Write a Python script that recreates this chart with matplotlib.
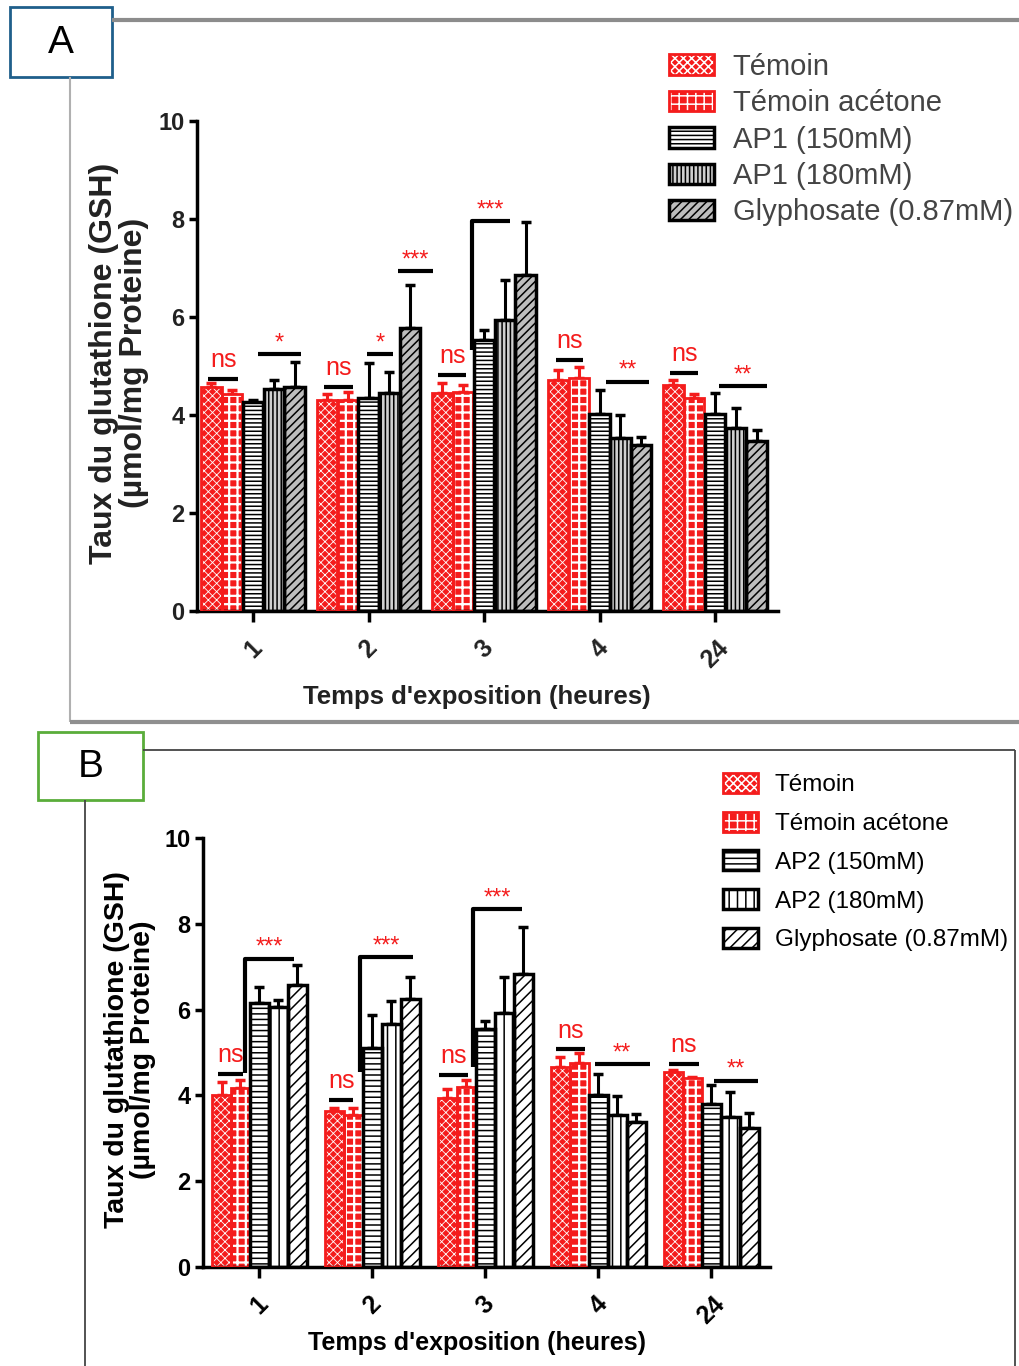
import matplotlib
matplotlib.use('Agg')
import matplotlib.pyplot as plt
from matplotlib.lines import Line2D
from matplotlib.patches import Rectangle
import numpy as np

plt.rcParams['font.family'] = ['Liberation Sans', 'DejaVu Sans']
plt.rcParams['hatch.linewidth'] = 1.1

# ---------------- data ----------------
groups = ['1', '2', '3', '4', '24']
series_A = ['Témoin', 'Témoin acétone', 'AP1 (150mM)', 'AP1 (180mM)', 'Glyphosate (0.87mM)']
series_B = ['Témoin', 'Témoin acétone', 'AP2 (150mM)', 'AP2 (180mM)', 'Glyphosate (0.87mM)']

# Panel A (means / SEM) per exposure time
temoin_A = [4.57, 4.31, 4.45, 4.71, 4.62]
temoin_A_err = [0.08, 0.12, 0.20, 0.21, 0.10]
acetone_A = [4.42, 4.31, 4.47, 4.75, 4.35]
acetone_A_err = [0.10, 0.15, 0.15, 0.22, 0.08]
ap150_A = [4.27, 4.35, 5.53, 4.03, 4.03]
ap150_A_err = [0.03, 0.71, 0.20, 0.48, 0.41]
ap180_A = [4.54, 4.45, 5.94, 3.53, 3.73]
ap180_A_err = [0.17, 0.42, 0.81, 0.47, 0.41]
glyph_A = [4.58, 5.77, 6.86, 3.39, 3.46]
glyph_A_err = [0.50, 0.88, 1.07, 0.17, 0.23]

# Panel B
temoin_B = [4.01, 3.63, 3.93, 4.67, 4.55]
temoin_B_err = [0.31, 0.07, 0.21, 0.23, 0.04]
acetone_B = [4.17, 3.54, 4.20, 4.76, 4.40]
acetone_B_err = [0.19, 0.16, 0.16, 0.23, 0.04]
ap150_B = [6.15, 5.10, 5.54, 4.01, 3.80]
ap150_B_err = [0.38, 0.77, 0.20, 0.50, 0.44]
ap180_B = [6.07, 5.66, 5.93, 3.54, 3.50]
ap180_B_err = [0.15, 0.55, 0.82, 0.45, 0.59]
glyph_B = [6.57, 6.24, 6.83, 3.39, 3.23]
glyph_B_err = [0.47, 0.53, 1.10, 0.18, 0.37]

# significance marks: (group, label, y level, first bar, last bar, bracket bottom or None)
sig_A = [
    (0, 'ns', 4.73, -0.15, 1.3, None), (0, '*', 5.24, 2.25, 4.3, None),
    (1, 'ns', 4.57, -0.15, 1.25, None), (1, '*', 5.24, 1.95, 3.2, None), (1, '***', 6.93, 3.4, 5.1, None),
    (2, 'ns', 4.82, -0.2, 1.15, None), (2, '***', 7.95, 1.4, 3.25, 5.33),
    (3, 'ns', 5.12, -0.1, 1.2, None), (3, '**', 4.68, 2.3, 4.4, None),
    (4, 'ns', 4.86, -0.15, 1.2, None), (4, '**', 4.59, 2.2, 4.5, None),
]
sig_B = [
    (0, 'ns', 4.50, -0.2, 1.15, None), (0, '***', 7.19, 1.25, 3.8, 4.52),
    (1, 'ns', 3.89, -0.3, 1.0, None), (1, '***', 7.22, 1.35, 4.15, 4.55),
    (2, 'ns', 4.48, -0.45, 1.1, None), (2, '***', 8.34, 1.35, 3.95, 4.67),
    (3, 'ns', 5.07, -0.25, 1.3, None), (3, '**', 4.73, 1.8, 4.7, None),
    (4, 'ns', 4.73, -0.25, 1.35, None), (4, '**', 4.34, 2.15, 4.45, None),
]

RED = '#f41c1c'

W, H = 1020, 1366
fig = plt.figure(figsize=(W / 100, H / 100), dpi=100)


def fx(x):
    return x / W


def fy(y):
    return 1 - y / H


def line(xs, ys, color, lw):
    fig.add_artist(Line2D([fx(v) for v in xs], [fy(v) for v in ys], color=color, lw=lw,
                          transform=fig.transFigure, solid_capstyle='butt'))


def draw_panel(ax, series, vals, errs, styles, sigs, bw, labcolor):
    x = np.arange(len(groups))
    handles = []
    for i, (v, e, st) in enumerate(zip(vals, errs, styles)):
        pos = x + (i - 2) * bw
        face, hcol, hatch, ecol, elw, hlw = st
        b1 = ax.bar(pos, v, bw * 0.98, color=face, edgecolor=hcol, hatch=hatch, linewidth=0, zorder=2)
        for p in b1:
            try:
                p.set_hatch_linewidth(hlw)
            except AttributeError:
                pass
        b2 = ax.bar(pos, v, bw * 0.98, fill=False, edgecolor=ecol, linewidth=elw, zorder=3)
        ax.errorbar(pos, v, yerr=[np.zeros(len(v)), e], fmt='none', ecolor=ecol,
                    elinewidth=2.2, capsize=3.5, capthick=2.5, zorder=1)
        handles.append((b1[0], b2[0]))
    for g, lab, yv, b0, b1_, bot in sigs:
        xa = g + (b0 - 2) * bw
        xb = g + (b1_ - 2) * bw
        if bot is None:
            ax.plot([xa, xb], [yv, yv], color='black', lw=3, solid_capstyle='butt', zorder=4)
        else:
            ax.plot([xa, xa, xb], [bot, yv, yv], color='black', lw=3, solid_capstyle='butt', zorder=4)
        fs = 18 if lab == 'ns' else 17
        off = 5 if lab == 'ns' else 0
        ax.annotate(lab, xy=((xa + xb) / 2, yv), xytext=(0, off), textcoords='offset points',
                    ha='center', va='bottom', color=RED, fontsize=fs, zorder=5)
    ax.set_ylim(0, 10)
    ax.set_yticks([0, 2, 4, 6, 8, 10])
    ax.set_xticks(x)
    ax.set_xticklabels(groups, rotation=45, ha='center', va='top', fontsize=18,
                       fontweight='bold', color=labcolor)
    for t in ax.get_yticklabels():
        t.set_fontsize(17)
        t.set_fontweight('bold')
        t.set_color(labcolor)
    for s in ['top', 'right']:
        ax.spines[s].set_visible(False)
    for s in ['left', 'bottom']:
        ax.spines[s].set_linewidth(2.5)
    ax.tick_params(axis='y', length=6, width=2.5, pad=3)
    ax.tick_params(axis='x', length=8, width=2.5, pad=10)
    return handles


# ---------------- Panel A ----------------
axA = fig.add_axes([fx(197), fy(611), (778 - 197) / W, (611 - 121) / H])
bwA = 0.18
stylesA = [
    (RED, 'white', 'xxxx', RED, 2.0, 0.6),
    (RED, 'white', '++', RED, 2.0, 1.6),
    ('white', 'black', '----', 'black', 2.5, 1.1),
    ('#d0d0d0', 'black', '||||', 'black', 2.5, 1.1),
    ('#bdbdbd', 'black', '////', 'black', 2.5, 1.1),
]
hA = draw_panel(axA, series_A,
                [temoin_A, acetone_A, ap150_A, ap180_A, glyph_A],
                [temoin_A_err, acetone_A_err, ap150_A_err, ap180_A_err, glyph_A_err],
                stylesA, sig_A, bwA, '#222222')
axA.set_xlim(-0.485, 4.545)
fig.legend(hA, series_A, loc='upper left', bbox_to_anchor=(fx(657), fy(41)), frameon=False,
           fontsize=21, handlelength=1.55, handleheight=0.7, handletextpad=0.65,
           labelspacing=0.29, labelcolor='#444444', borderaxespad=0)
fig.text(fx(119), fy(363), "Taux du glutathione (GSH)\n(µmol/mg Proteine)", rotation=90,
         ha='center', va='center', fontsize=23, fontweight='bold', color='#222222',
         linespacing=0.98)
fig.text(fx(477), fy(697), "Temps d'exposition (heures)", ha='center', va='center',
         fontsize=18.5, fontweight='bold', color='#222222')

# frame A
line([112, 1020], [20, 20], '#8c8c8c', 3)
line([70, 70], [77, 722], '#b0b0b0', 1.5)
line([70, 1020], [722, 722], '#8f8f8f', 3)
fig.add_artist(Rectangle((fx(10), fy(77)), (112 - 10) / W, (77 - 7) / H, transform=fig.transFigure,
                         facecolor='white', edgecolor='#1f5f8b', lw=2))
fig.text(fx(61), fy(43), 'A', ha='center', va='center', fontsize=28)

# ---------------- Panel B ----------------
axB = fig.add_axes([fx(203), fy(1267), (770 - 203) / W, (1267 - 838) / H])
bwB = 0.168
stylesB = [
    (RED, 'white', 'xxxx', RED, 2.0, 0.6),
    (RED, 'white', '++', RED, 2.0, 1.6),
    ('white', 'black', '---', 'black', 2.5, 1.1),
    ('white', 'black', '||', 'black', 2.5, 1.1),
    ('white', 'black', '///', 'black', 2.5, 1.1),
]
hB = draw_panel(axB, series_B,
                [temoin_B, acetone_B, ap150_B, ap180_B, glyph_B],
                [temoin_B_err, acetone_B_err, ap150_B_err, ap180_B_err, glyph_B_err],
                stylesB, sig_B, bwB, 'black')
axB.set_xlim(-0.5, 4.52)
fig.legend(hB, series_B, loc='upper left', bbox_to_anchor=(fx(713), fy(763)), frameon=False,
           fontsize=17.5, handlelength=1.45, handleheight=0.9, handletextpad=0.7,
           labelspacing=0.63, labelcolor='black', borderaxespad=0)
fig.text(fx(130), fy(1050), "Taux du glutathione (GSH)\n(µmol/mg Proteine)", rotation=90,
         ha='center', va='center', fontsize=20.5, fontweight='bold', color='black',
         linespacing=1.0)
fig.text(fx(477), fy(1343), "Temps d'exposition (heures)", ha='center', va='center',
         fontsize=18, fontweight='bold', color='black')

line([143, 1015], [750, 750], '#444444', 1.3)
line([1015, 1015], [750, 1366], '#444444', 1.3)
line([85, 85], [800, 1366], '#444444', 1.3)
fig.add_artist(Rectangle((fx(38), fy(800)), (143 - 38) / W, (800 - 732) / H, transform=fig.transFigure,
                         facecolor='white', edgecolor='#5aad3a', lw=2))
fig.text(fx(91), fy(767), 'B', ha='center', va='center', fontsize=28)

fig.savefig('out.png', dpi=100)
